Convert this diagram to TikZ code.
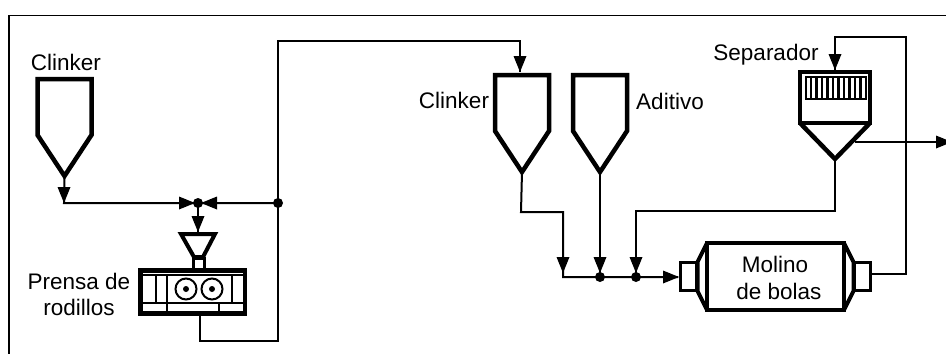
\documentclass[tikz,border=0pt]{standalone}
\usepackage{fontspec}
\setmainfont{Liberation Sans}
\tikzset{x=1pt,y=-1pt,
 thin line/.style={line width=2pt,line join=miter},
 thick wall/.style={line width=4.5pt,line join=miter},
 fine line/.style={line width=1.6pt},
 lbl/.style={inner sep=0pt,font=\fontsize{22.5}{27}\selectfont,align=center},
 dot/.style={circle,fill=black,inner sep=0pt,minimum size=10pt},
 head/.style={fill=black,draw=none}}
\newcommand{\hopper}[3]{% left, top, name
 \draw[thick wall] (#1,#2+56) -- (#1,#2) -- (#1+54,#2) -- (#1+54,#2+56) -- (#1+27,#2+97) -- cycle;
 \coordinate (#3) at (#1+27,#2+97);}
\newcommand{\adown}[2]{\fill[head] (#1,#2) -- (#1-6.5,#2-16) -- (#1+6.5,#2-16) -- cycle;}
\newcommand{\aright}[2]{\fill[head] (#1,#2) -- (#1-16,#2-6.5) -- (#1-16,#2+6.5) -- cycle;}
\newcommand{\aleft}[2]{\fill[head] (#1,#2) -- (#1+16,#2-6.5) -- (#1+16,#2+6.5) -- cycle;}
\begin{document}
\begin{tikzpicture}
\useasboundingbox (0,0) rectangle (946,354);
\clip (0,0) rectangle (946,354);
\fill[white] (0,0) rectangle (946,354);
% frame
\draw[line width=1.3pt] (946,15.5) -- (9,15.5) -- (9,354);
% hoppers
\hopper{37.5}{79}{t1}
\hopper{495}{75}{t2}
\hopper{573}{75}{t3}
% labels
\node[lbl] (l1) at (66,62) {Clinker};
\node[lbl] (l2) at (454,100) {Clinker};
\node[lbl] (l3) at (670,101) {Aditivo};
\node[lbl] (l4) at (766,55) {Separador};
\node[lbl] (l5) at (79,294) {Prensa de\\[-1pt]rodillos};
\node[lbl] (l6) at (779,278) {Molino\hspace{8pt}\mbox{}\\de bolas};
% junctions
\node[dot] (j1) at (198,203) {};
\node[dot] (j2) at (278,203) {};
\node[dot] (j3) at (600,277) {};
\node[dot] (j4) at (636,277) {};
% press
\coordinate (pin) at (200,316);
\draw[line width=4.6pt] (140.5,270.5) rectangle (245,313.5);
\draw[fine line] (143,275) -- (243,275) (156,275) -- (156,303) (167,275) -- (167,312)
 (232,275) -- (232,303) (219,303) -- (219,312);
\draw[line width=2pt] (143,303) -- (243,303);
\draw[line width=2pt] (186,289) circle (10.5) (212,289) circle (10.5);
\fill (186,289) circle (3) (212,289) circle (3);
% small hopper + neck
\draw[line width=4pt,line join=miter] (181,234) -- (215,234) -- (203,257) -- (194,257) -- cycle;
\draw[line width=3pt] (193.5,258) rectangle (204.5,269);
% separator
\draw[thick wall] (800,123) -- (800,72) -- (870,72) -- (870,123) -- cycle;
\draw[thick wall] (800,123) -- (835,159) -- (870,123);
\draw[line width=2pt] (805.5,77) rectangle (866,99);
\foreach \i in {1,...,10} \draw[line width=2.4pt] (805.5+5.5*\i,77) -- (805.5+5.5*\i,99);
\coordinate (sepT) at (835,70);
\coordinate (sepB) at (835,160);
\coordinate (sepS) at (855,142);
\coordinate (out) at (946,142);
% mill
\draw[thick wall] (707,243) rectangle (844,310);
\draw[line width=4pt,line join=miter] (707,243) -- (697.5,262) -- (697.5,291) -- (707,310);
\draw[line width=4pt,line join=miter] (844,243) -- (853.5,262) -- (853.5,291) -- (844,310);
\draw[line width=2.6pt] (680.5,262.5) rectangle (696,290.5);
\draw[line width=2.6pt] (855,262.5) rectangle (870.5,290.5);
% connectors
\draw[thin line] (t1) -- (64,203) -- (j2.center);
\draw[thin line] (j1.center) -- (198,232);
\draw[thin line] (pin) -- (200,341) -- (278,341) -- (278,41) -- (520,41) -- (520,72);
\draw[thin line] (t2) -- (521,212) -- (563,212) -- (563,277) -- (678,277);
\draw[thin line] (t3) -- (j3.center);
\draw[thin line] (sepB) -- (835,211) -- (636,211) -- (j4.center);
\draw[thin line] (871,274) -- (906,274) -- (906,37) -- (835,37) -- (sepT);
\draw[thin line] (sepS) -- (out);
% arrowheads
\adown{64}{203}
\aright{195}{203}
\aleft{201}{203}
\adown{198}{232}
\adown{520}{72}
\adown{563}{273}
\adown{600}{273}
\adown{636}{273}
\aright{679}{277}
\adown{835}{70}
\aright{952}{142}
\end{tikzpicture}
\end{document}
